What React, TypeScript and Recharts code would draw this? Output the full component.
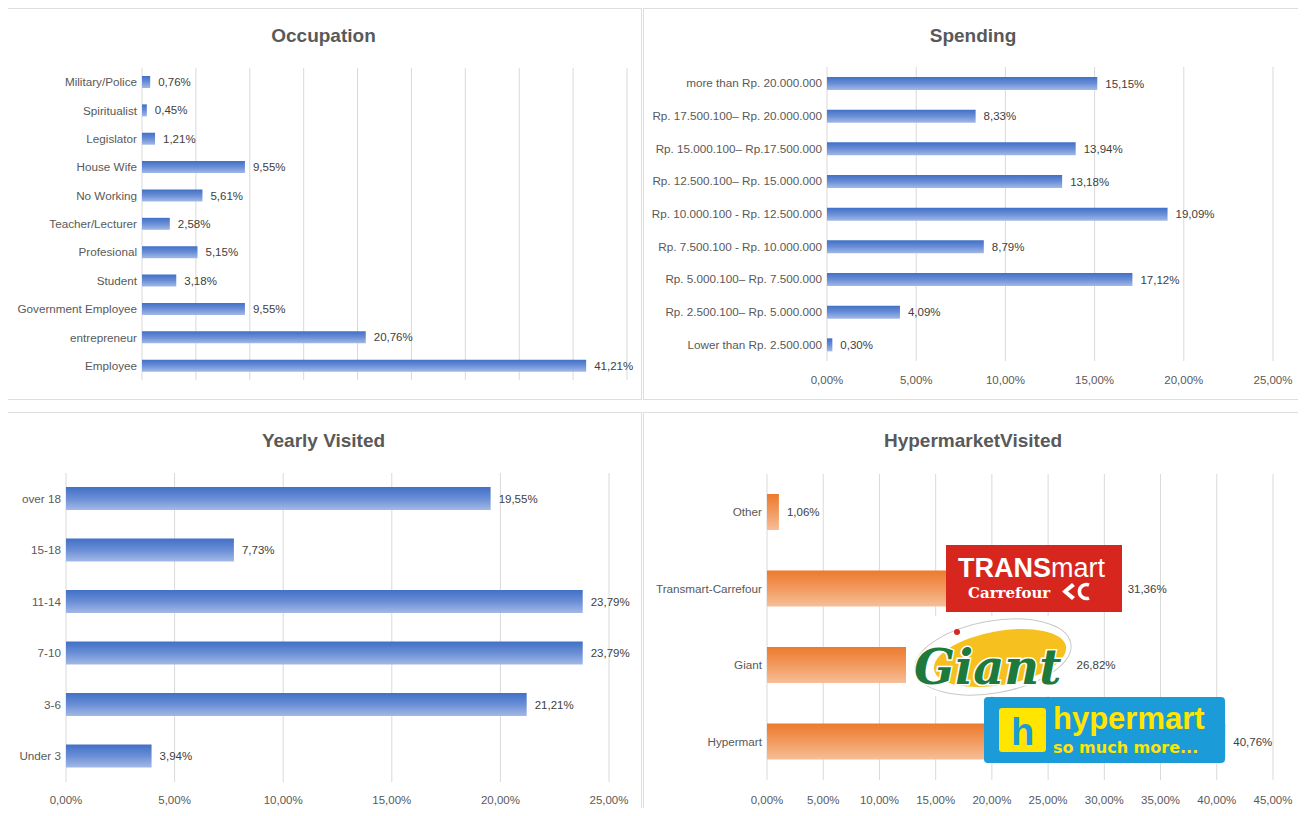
import React from "react";
import { BarChart, Bar, XAxis, YAxis, CartesianGrid, LabelList } from "recharts";

const occupationLabels = [
  "Military/Police",
  "Spiritualist",
  "Legislator",
  "House Wife",
  "No Working",
  "Teacher/Lecturer",
  "Profesional",
  "Student",
  "Government Employee",
  "entrepreneur",
  "Employee",
];
const occupationValues = [0.76, 0.45, 1.21, 9.55, 5.61, 2.58, 5.15, 3.18, 9.55, 20.76, 41.21];

const spendingLabels = [
  "more than Rp. 20.000.000",
  "Rp. 17.500.100– Rp. 20.000.000",
  "Rp. 15.000.100– Rp.17.500.000",
  "Rp. 12.500.100– Rp. 15.000.000",
  "Rp. 10.000.100 - Rp. 12.500.000",
  "Rp. 7.500.100 - Rp. 10.000.000",
  "Rp. 5.000.100– Rp. 7.500.000",
  "Rp. 2.500.100– Rp. 5.000.000",
  "Lower than Rp. 2.500.000",
];
const spendingValues = [15.15, 8.33, 13.94, 13.18, 19.09, 8.79, 17.12, 4.09, 0.3];

const yearlyLabels = ["over 18", "15-18", "11-14", "7-10", "3-6", "Under 3"];
const yearlyValues = [19.55, 7.73, 23.79, 23.79, 21.21, 3.94];

const hyperLabels = ["Other", "Transmart-Carrefour", "Giant", "Hypermart"];
const hyperValues = [1.06, 31.36, 26.82, 40.76];

const ticks25 = [0, 5, 10, 15, 20, 25];
const ticks45 = [0, 5, 10, 15, 20, 25, 30, 35, 40, 45];

const FONT = "'Liberation Sans', Arial, sans-serif";
const fmt = (v: any) => Number(v).toFixed(2).replace(".", ",") + "%";

// plain single-line category label (recharts would wrap long ones)
const CatTick = (props: any) => {
  const { x, y, payload } = props;
  return (
    <text x={x} y={y} dy="0.35em" textAnchor="end" fill="#595959" fontSize={11.7}>
      {payload.value}
    </text>
  );
};

type PanelProps = {
  id: string;
  title: string;
  labels: string[];
  values: number[];
  ticks: number[];
  box: { left: number; top: number; width: number; height: number };
  margin: { top: number; right: number; bottom: number; left: number };
  yWidth: number;
  barSize: number;
  orange?: boolean;
  showX?: boolean;
  tickMargin?: number;
  titleTop: number;
};

function Panel(p: PanelProps) {
  const data = p.labels.map((name, i) => ({ name, value: p.values[i] }));
  const gid = "grad-" + p.id;
  const stops = p.orange
    ? ["#EC7A2E", "#F29A5E", "#F7BE97"]
    : ["#4170C6", "#6A8ED6", "#A2B9E6"];
  return (
    <div
      style={{
        position: "absolute",
        left: p.box.left,
        top: p.box.top,
        width: p.box.width,
        height: p.box.height,
        border: "1px solid #DEDEDE",
        boxSizing: "border-box",
        background: "#fff",
      }}
    >
      <div
        style={{
          position: "absolute",
          top: p.titleTop,
          left: 0,
          width: "100%",
          textAlign: "center",
          fontSize: 19,
          fontWeight: "bold",
          color: "#595959",
          lineHeight: "22px",
        }}
      >
        {p.title}
      </div>
      <div style={{ position: "absolute", left: -1, top: -1 }}>
        <BarChart
          layout="vertical"
          width={p.box.width}
          height={p.box.height}
          data={data}
          margin={p.margin}
        >
          <defs>
            <linearGradient id={gid} x1="0" y1="0" x2="0" y2="1">
              <stop offset="0%" stopColor={stops[0]} />
              <stop offset="50%" stopColor={stops[1]} />
              <stop offset="100%" stopColor={stops[2]} />
            </linearGradient>
          </defs>
          <CartesianGrid horizontal={false} vertical={true} stroke="#D9D9D9" />
          <XAxis
            type="number"
            domain={[0, p.ticks[p.ticks.length - 1]]}
            ticks={p.ticks}
            hide={!p.showX}
            height={30}
            axisLine={false}
            tickLine={false}
            tickSize={0}
            tickMargin={p.tickMargin ?? 14}
            tickFormatter={fmt}
            tick={{ fill: "#595959", fontSize: 11.5 }}
            interval={0}
          />
          <YAxis
            type="category"
            dataKey="name"
            width={p.yWidth}
            axisLine={false}
            tickLine={false}
            tickSize={0}
            tickMargin={5}
            interval={0}
            tick={<CatTick />}
          />
          <Bar
            dataKey="value"
            fill={`url(#${gid})`}
            barSize={p.barSize}
            isAnimationActive={false}
          >
            <LabelList
              dataKey="value"
              position="right"
              formatter={fmt}
              fill="#404040"
              fontSize={11.5}
              offset={8}
            />
          </Bar>
        </BarChart>
      </div>
    </div>
  );
}

function Logos() {
  return (
    <svg
      width={1306}
      height={816}
      style={{ position: "absolute", left: 0, top: 0, pointerEvents: "none" }}
    >
      {/* Transmart Carrefour */}
      <rect x={946} y={545} width={176} height={67} fill="#D7261E" />
      <text x={958} y={577} fill="#fff" fontSize={27} fontFamily={FONT}>
        <tspan fontWeight="bold">TRANS</tspan>
        <tspan>mart</tspan>
      </text>
      <text
        x={968}
        y={598}
        fill="#fff"
        fontSize={15}
        fontWeight="bold"
        fontFamily="'DejaVu Serif', serif"
      >
        Carrefour
      </text>
      <polygon
        points="1072,583 1062,591.5 1072,600 1075,597 1068,591.5 1075,586"
        fill="#fff"
      />
      <path
        d="M1089,585 A7,7 0 1 0 1089,598"
        stroke="#fff"
        strokeWidth={3.5}
        fill="none"
      />
      {/* Giant */}
      <rect x={906} y={616} width={168} height={80} fill="#fff" />
      <ellipse
        cx={993}
        cy={657}
        rx={79}
        ry={36}
        transform="rotate(-10 993 657)"
        fill="#fff"
        stroke="#C8C8C8"
        strokeWidth={1}
      />
      <ellipse
        cx={1000}
        cy={658}
        rx={67}
        ry={27}
        transform="rotate(-10 1000 658)"
        fill="#F6C11E"
      />
      <text
        x={914}
        y={684}
        fill="#1D7A3A"
        stroke="#fff"
        strokeWidth={3}
        paintOrder="stroke"
        fontSize={48}
        fontStyle="italic"
        fontWeight="bold"
        fontFamily="'DejaVu Serif', serif"
      >
        Giant
      </text>
      <circle cx={957} cy={632} r={3} fill="#D7261E" />
      {/* Hypermart */}
      <rect x={984} y={697} width={241} height={66} rx={4} fill="#1B9BD8" />
      <rect x={999} y={708} width={47} height={44} rx={3} fill="#FFE500" />
      <text
        x={1022.5}
        y={745}
        textAnchor="middle"
        fill="#1B9BD8"
        fontSize={38}
        fontWeight="bold"
        fontFamily={FONT}
      >
        h
      </text>
      <text
        x={1053}
        y={729}
        fill="#FFE500"
        fontSize={31}
        fontWeight="bold"
        fontFamily={FONT}
      >
        hypermart
      </text>
      <text
        x={1053}
        y={753}
        fill="#FFE500"
        fontSize={16}
        fontWeight="bold"
        fontFamily="'DejaVu Sans', sans-serif"
      >
        so much more...
      </text>
    </svg>
  );
}

export default function App() {
  return (
    <div
      style={{
        position: "relative",
        width: 1306,
        height: 816,
        margin: -8,
        background: "#fff",
        fontFamily: FONT,
        overflow: "hidden",
      }}
    >
      <Panel
        id="occ"
        title="Occupation"
        labels={occupationLabels}
        values={occupationValues}
        ticks={ticks45}
        box={{ left: 5, top: 8, width: 637, height: 392 }}
        margin={{ top: 60, right: 15, bottom: 20, left: 0 }}
        yWidth={137}
        barSize={12}
        titleTop={16}
      />
      <Panel
        id="spend"
        title="Spending"
        labels={spendingLabels}
        values={spendingValues}
        ticks={ticks25}
        box={{ left: 643, top: 8, width: 660, height: 392 }}
        margin={{ top: 59, right: 30, bottom: 9, left: 0 }}
        yWidth={184}
        barSize={13}
        showX
        tickMargin={15}
        titleTop={16}
      />
      <Panel
        id="year"
        title="Yearly Visited"
        labels={yearlyLabels}
        values={yearlyValues}
        ticks={ticks25}
        box={{ left: 5, top: 412, width: 637, height: 405 }}
        margin={{ top: 61, right: 33, bottom: 5, left: 0 }}
        yWidth={61}
        barSize={23}
        showX
        tickMargin={14}
        titleTop={17}
      />
      <Panel
        id="hyper"
        title="HypermarketVisited"
        labels={hyperLabels}
        values={hyperValues}
        ticks={ticks45}
        box={{ left: 643, top: 412, width: 660, height: 405 }}
        margin={{ top: 62, right: 30, bottom: 7, left: 0 }}
        yWidth={124}
        barSize={36}
        orange
        showX
        tickMargin={16}
        titleTop={17}
      />
      <Logos />
    </div>
  );
}
